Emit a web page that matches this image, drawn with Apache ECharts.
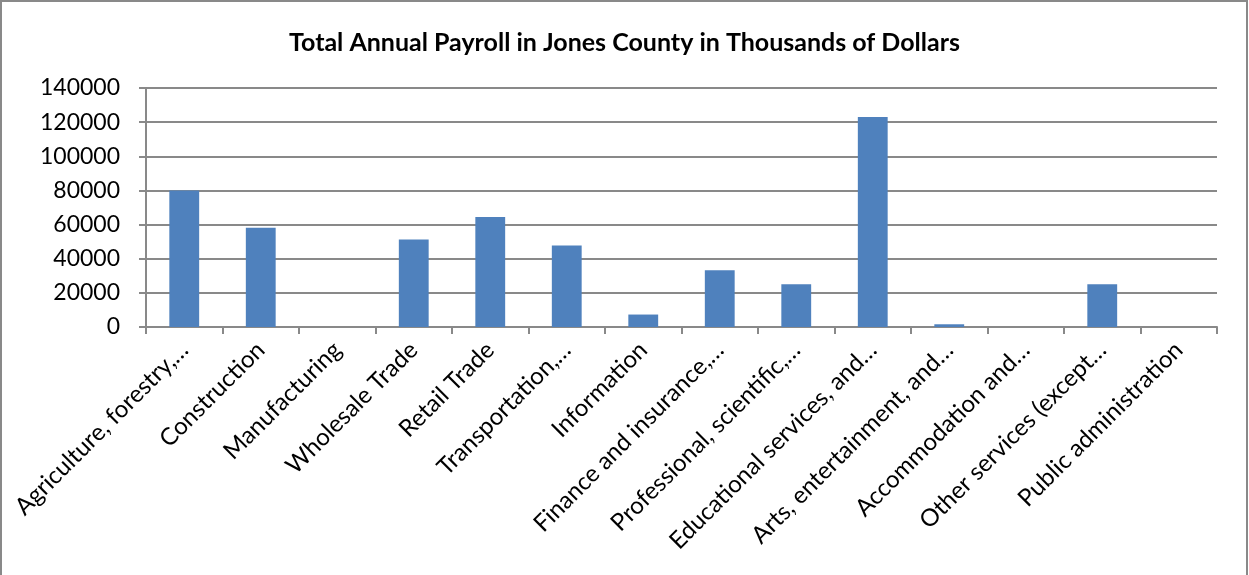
<!DOCTYPE html>
<html>
<head>
<meta charset="utf-8">
<script src="https://cdn.jsdelivr.net/npm/echarts@6/dist/echarts.min.js"></script>
<style>
html,body{margin:0;padding:0;background:#fff;}
#chart{width:1249px;height:575px;}
</style>
</head>
<body>
<div id="chart"></div>
<script>
const titleText = 'Total Annual Payroll in Jones County in Thousands of Dollars';
const categories = [
  'Agriculture, forestry,…',
  'Construction',
  'Manufacturing',
  'Wholesale Trade',
  'Retail Trade',
  'Transportation,…',
  'Information',
  'Finance and insurance,…',
  'Professional, scientific,…',
  'Educational services, and…',
  'Arts, entertainment, and…',
  'Accommodation and…',
  'Other services (except…',
  'Public administration'
];
const payroll = [80000, 58200, 0, 51300, 64500, 47700, 7300, 33300, 25000, 123000, 1600, 0, 25000, 0];
const yMin = 0, yMax = 140000, yStep = 20000;

const chart = echarts.init(document.getElementById('chart'), null, {renderer: 'canvas'});
const gray = '#898989';
const font = 'Lato, "Liberation Sans", sans-serif';
chart.setOption({
  animation: false,
  backgroundColor: '#ffffff',
  textStyle: {fontFamily: font},
  title: {
    text: titleText,
    left: 'center',
    top: 25,
    textStyle: {fontFamily: font, fontSize: 25, fontWeight: 'bold', color: '#000'}
  },
  graphic: [{
    type: 'rect',
    shape: {x: 1, y: 1, width: 1246, height: 600},
    style: {fill: 'none', stroke: gray, lineWidth: 2},
    silent: true,
    z: 100
  }],
  grid: {left: 146, right: 32, top: 88, bottom: 248, containLabel: false},
  xAxis: {
    type: 'category',
    data: categories,
    axisLine: {show: true, lineStyle: {color: gray, width: 2}},
    axisTick: {show: true, alignWithLabel: false, length: 7, lineStyle: {color: gray, width: 2}},
    axisLabel: {interval: 0, rotate: 45, margin: 19, fontSize: 24, color: '#000', fontFamily: font}
  },
  yAxis: {
    type: 'value',
    min: yMin, max: yMax, interval: yStep,
    axisLine: {show: true, lineStyle: {color: gray, width: 2}},
    axisTick: {show: true, length: 7, lineStyle: {color: gray, width: 2}},
    axisLabel: {margin: 26, fontSize: 23, color: '#000', fontFamily: font, formatter: function (v) { return String(v); }},
    splitLine: {show: true, lineStyle: {color: gray, width: 2}}
  },
  series: [{
    type: 'bar',
    data: payroll,
    barWidth: '39%',
    itemStyle: {color: '#4F81BD', borderWidth: 0}
  }]
});
</script>
</body>
</html>
